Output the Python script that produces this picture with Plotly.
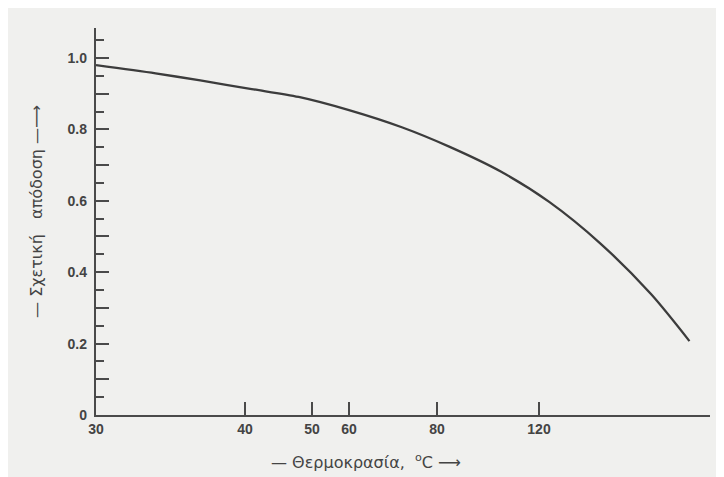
import numpy as np
import plotly.graph_objects as go

# ---- data ----
tick_temps = [30, 40, 50, 60, 80, 120]
tick_labels = ["30", "40", "50", "60", "80", "120"]

temps = [30, 34, 37, 41, 48, 60, 72, 85, 105, 124, 144, 164, 179]
efficiency = [0.980, 0.957, 0.937, 0.913, 0.891, 0.854, 0.806, 0.751,
              0.682, 0.597, 0.481, 0.338, 0.207]

y_label_vals = [0, 0.2, 0.4, 0.6, 0.8, 1.0]
y_label_text = ["0", "0.2", "0.4", "0.6", "0.8", "1.0"]

# ---- the printed (non-uniform) temperature scale of the chart ----
scale_pos = [0, 149, 216, 253, 341, 443]   # axis position of each tick
axis_end = 614
beyond_slope = (scale_pos[-1] - scale_pos[-2]) / (tick_temps[-1] - tick_temps[-2])


def to_axis(t):
    t = np.asarray(t, dtype=float)
    u = np.interp(t, tick_temps, scale_pos)
    over = t > tick_temps[-1]
    u[over] = scale_pos[-1] + (t[over] - tick_temps[-1]) * beyond_slope
    return u


ink = "#3c3c3c"
axis_ink = "#4a4a4a"
paper_bg = "#f0f0ee"
y_range = [0, 1.084]
tick_font = dict(size=14, family="Liberation Sans, Arial", color="#444444", weight="bold")
title_font = dict(size=16, family="DejaVu Sans, sans-serif", color="#444444")

fig = go.Figure()
fig.add_trace(go.Scatter(
    x=to_axis(temps), y=efficiency, mode="lines",
    line=dict(color=ink, width=2.3, shape="spline", smoothing=0.8),
    hoverinfo="skip", showlegend=False))
# invisible trace carrying the labelled overlay axis
fig.add_trace(go.Scatter(
    x=[0], y=[0], yaxis="y2", mode="markers", marker=dict(opacity=0),
    hoverinfo="skip", showlegend=False))

fig.update_layout(
    width=716, height=469,
    margin=dict(l=88, r=14, t=20, b=62),
    paper_bgcolor=paper_bg, plot_bgcolor=paper_bg,
    font=dict(family="Liberation Sans, Arial, sans-serif", color="#444444"),
    xaxis=dict(
        range=[0, axis_end], showgrid=False, zeroline=False,
        showline=True, linecolor=axis_ink, linewidth=2,
        tickmode="array", tickvals=to_axis(tick_temps), ticktext=tick_labels,
        ticks="inside", ticklen=13, tickwidth=1.6, tickcolor=axis_ink,
        tickfont=tick_font,
    ),
    yaxis=dict(
        range=y_range, showgrid=False, zeroline=False,
        showline=True, linecolor=axis_ink, linewidth=2,
        tick0=0, dtick=0.1, showticklabels=False,
        ticks="inside", ticklen=13, tickwidth=1.6, tickcolor=axis_ink,
        minor=dict(dtick=0.05, tick0=0, ticks="inside", ticklen=8,
                   tickwidth=1.6, tickcolor=axis_ink),
    ),
    yaxis2=dict(
        overlaying="y", side="left", range=y_range,
        showgrid=False, zeroline=False, showline=False, ticks="",
        tickmode="array", tickvals=y_label_vals, ticktext=y_label_text,
        ticklabelstandoff=8, tickfont=tick_font,
    ),
    annotations=[
        dict(text="— Σχετική   απόδοση —⟶", xref="paper", yref="paper",
             x=-0.096, y=0.525, xanchor="center", yanchor="middle",
             textangle=-90, showarrow=False, font=title_font),
        dict(text="— Θερμοκρασία,  <sup>o</sup>C ⟶", xref="paper", yref="paper",
             x=0.440, y=-0.121, xanchor="center", yanchor="middle",
             showarrow=False, font=title_font),
    ],
)

fig.write_html("out.html")
